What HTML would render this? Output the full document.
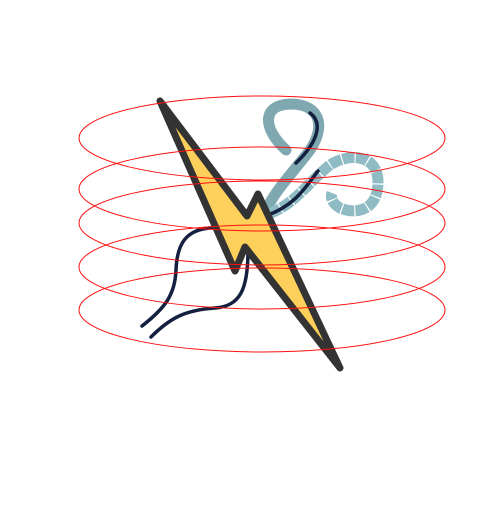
<!DOCTYPE html>
<html><head><meta charset="utf-8"><style>html,body{margin:0;padding:0;background:#fff}</style></head>
<body>
<svg width="500" height="500" viewBox="0 0 500 500">
<g fill="none" stroke="#142040" stroke-width="3.5" stroke-linecap="round">
<path d="M142,326 C165,308 175,295 176,270 C177,245 185,230 210,228 L245,226"/>
<path d="M151,337 C170,318 185,310 215,308 C240,306 248,290 248,250"/>
</g>
<path fill="none" stroke="#80a8b0" stroke-width="11" stroke-linecap="round" d="M286,150 C262,128 262,105 290,104 C322,104 325,128 310,150 C295,170 275,190 265,212"/>
<path fill="none" stroke="#8fbcc4" stroke-width="11" d="M268,214 C295,205 310,180 330,165 C350,152 378,155 378,182 C378,210 357,215 340,208 C333,204 330,198 332,193"/>
<path fill="none" stroke="#fff" stroke-width="11" stroke-dasharray="1.2 12" d="M268,214 C295,205 310,180 330,165 C350,152 378,155 378,182 C378,210 357,215 340,208 C333,204 330,198 332,193"/>
<g fill="none" stroke="#142040" stroke-width="3.5" stroke-linecap="round">
<path d="M310,113 C322,122 320,140 296,163"/>
<path d="M318,171 C305,188 295,205 268,215"/>
</g>
<polygon points="160,101 247,216 258,194 340,368 245,247 235,271" fill="#fdd05c" stroke="#333" stroke-width="7" stroke-linejoin="round"/>
<g fill="none" stroke="#ff1010" stroke-width="1">
<ellipse cx="262" cy="138" rx="183" ry="42"/>
<ellipse cx="262" cy="189" rx="183" ry="42"/>
<ellipse cx="262" cy="223" rx="183" ry="42"/>
<ellipse cx="262" cy="267" rx="183" ry="42"/>
<ellipse cx="262" cy="310" rx="183" ry="42"/>
</g>
</svg>
</body></html>
